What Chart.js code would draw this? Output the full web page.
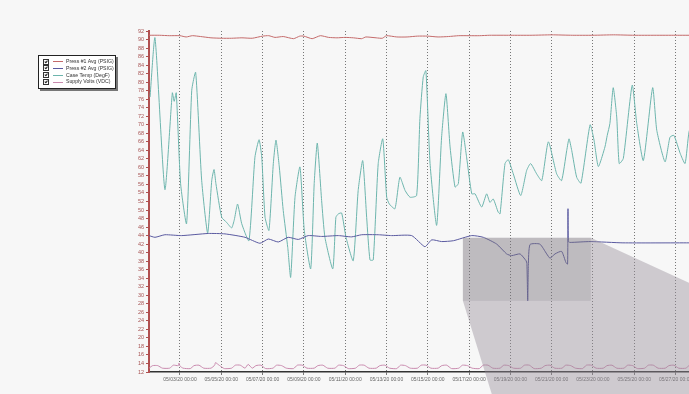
<!DOCTYPE html>
<html>
<head>
<meta charset="utf-8">
<script src="https://cdn.jsdelivr.net/npm/chart.js@4/dist/chart.umd.min.js"></script>
<style>
  body { margin: 0; background: #f7f7f7; overflow: hidden; font-family: "Liberation Sans", Arial, sans-serif; }
  #wrap { position: relative; width: 740px; height: 394px; }
  #legend {
    position: absolute; left: 38px; top: 55px; width: 76px; height: 32px;
    background: #fff; border: 1px solid #222; box-shadow: 2px 2px 0 #777;
    font-size: 5.2px; color: #333;
  }
  #legend .row { position: absolute; left: 4px; height: 6px; line-height: 6px; white-space: nowrap; }
  #legend .cb { display: inline-block; width: 4px; height: 4px; border: 0.6px solid #333; vertical-align: middle; position: relative; }
  #legend .cb::after { content: ""; position: absolute; left: 1px; top: 0px; width: 1.2px; height: 2.4px; border: solid #222; border-width: 0 0.7px 0.7px 0; transform: rotate(40deg); }
  #legend .ln { display: inline-block; width: 10px; height: 0; border-top: 1px solid; vertical-align: middle; margin: 0 3px 0 4px; }
</style>
</head>
<body>
<div id="wrap">
  <canvas id="chart"></canvas>
  <div id="legend"></div>
</div>
<script>
// series names and colours
const seriesNames = ["Press #1 Avg (PSIG)", "Press #2 Avg (PSIG)", "Case Temp (DegF)", "Supply Volts (VDC)"];
const seriesColors = ["#c46a6a", "#5a5aa0", "#6db5ad", "#c98aae"];

// x is the day of May 2020 (3 = 05/03/20 00:00)
const xTickDays = [3, 5, 7, 9, 11, 13, 15, 17, 19, 21, 23, 25, 27];
const xTickLabels = ["05/03/20 00:00", "05/05/20 00:00", "05/07/20 00:00", "05/09/20 00:00",
  "05/11/20 00:00", "05/13/20 00:00", "05/15/20 00:00", "05/17/20 00:00", "05/19/20 00:00",
  "05/21/20 00:00", "05/23/20 00:00", "05/25/20 00:00", "05/27/20 00:00"];

const press1 = [
  [1.5, 91.0], [2.0, 91.0], [2.5, 90.9], [3.0, 90.9], [3.3, 90.6], [3.6, 90.9], [4.0, 90.7],
  [4.5, 90.4], [5.0, 90.3], [5.5, 90.3], [6.0, 90.4], [6.5, 90.3], [7.0, 90.8], [7.3, 90.9],
  [7.6, 90.5], [8.0, 90.7], [8.5, 90.2], [8.8, 90.8], [9.0, 90.8], [9.4, 90.2], [9.8, 90.9],
  [10.2, 90.5], [10.6, 90.4], [11.0, 90.5], [11.4, 90.4], [11.8, 90.2], [12.0, 90.6], [12.5, 90.4],
  [12.8, 90.3], [13.0, 90.9], [13.5, 90.6], [14.0, 90.6], [14.5, 90.8], [15.0, 90.8], [15.5, 90.6],
  [16.0, 90.7], [16.5, 90.9], [17.0, 90.9], [17.5, 90.9], [18.0, 91.0], [19.0, 91.0], [20.0, 91.0],
  [21.0, 91.1], [22.0, 91.0], [23.0, 91.0], [24.0, 91.1], [25.0, 91.0], [26.0, 91.0], [27.0, 91.0],
  [28.0, 91.0], [30.2, 91.0]
];

const press2 = [
  [1.5, 44.0], [1.79, 43.6], [2.27, 44.2], [3.08, 44.0], [4.37, 44.5], [5.18, 44.4], [6.15, 43.6],
  [6.87, 42.2], [7.28, 43.2], [7.76, 42.5], [8.24, 43.6], [8.73, 43.1], [9.21, 44.0], [9.86, 43.8],
  [10.67, 44.0], [11.31, 43.7], [11.80, 44.2], [12.60, 44.2], [13.25, 44.0], [14.22, 44.0],
  [14.86, 41.4], [15.19, 43.0], [15.67, 42.6], [16.24, 42.8], [17.13, 44.0], [17.69, 43.6],
  [18.34, 42.0], [18.82, 39.7], [19.06, 39.3], [19.47, 39.7], [19.76, 38.1], [19.80, 37.5],
  [19.84, 28.7], [19.87, 37.0], [19.95, 41.9], [20.43, 42.0], [20.76, 39.7], [20.92, 38.7],
  [21.16, 39.7], [21.48, 40.3], [21.69, 37.7], [21.77, 37.3], [21.79, 50.3], [21.81, 42.6],
  [21.89, 42.4], [22.86, 42.6], [24.45, 42.3], [27.65, 42.3], [30.2, 42.3]
];

const caseTemp = [
  [1.55, 76.5], [1.79, 90.4], [2.27, 54.8], [2.63, 77.5], [2.72, 75.5], [2.82, 77.5], [3.03, 56.2],
  [3.32, 46.8], [3.57, 78.1], [3.76, 82.3], [4.05, 57.0], [4.34, 44.6], [4.54, 57.0], [4.65, 59.5],
  [4.74, 56.2], [5.02, 48.3], [5.26, 47.1], [5.50, 45.8], [5.63, 47.7], [5.79, 51.4], [5.99, 46.8],
  [6.34, 42.8], [6.63, 62.4], [6.83, 66.5], [6.96, 62.4], [7.12, 48.3], [7.31, 45.2], [7.52, 60.9],
  [7.65, 66.4], [7.81, 60.1], [8.00, 49.9], [8.22, 41.2], [8.36, 34.2], [8.57, 53.0], [8.81, 60.1],
  [9.02, 45.2], [9.33, 36.2], [9.50, 56.2], [9.65, 65.7], [9.86, 52.2], [10.02, 43.6], [10.40, 36.2],
  [10.55, 48.3], [10.67, 49.1], [10.83, 49.3], [11.04, 43.6], [11.39, 38.1], [11.63, 54.6],
  [11.85, 61.6], [12.04, 48.3], [12.20, 38.3], [12.36, 38.3], [12.60, 60.9], [12.82, 66.7],
  [13.01, 53.0], [13.14, 51.4], [13.41, 50.3], [13.65, 57.7], [13.90, 54.6], [14.14, 53.0],
  [14.46, 53.4], [14.62, 71.5], [14.78, 81.2], [14.91, 82.7], [15.11, 60.9], [15.43, 46.4],
  [15.67, 67.1], [15.88, 77.3], [16.08, 64.8], [16.32, 55.4], [16.48, 56.2], [16.69, 68.3],
  [16.88, 62.4], [17.13, 53.8], [17.29, 53.8], [17.61, 50.7], [17.85, 53.8], [18.01, 51.8],
  [18.17, 52.6], [18.41, 49.5], [18.50, 49.1], [18.74, 60.9], [18.90, 61.8], [19.14, 58.5],
  [19.50, 53.4], [19.79, 59.3], [19.98, 60.9], [20.27, 58.5], [20.52, 56.9], [20.84, 66.0],
  [21.24, 58.5], [21.48, 56.9], [21.73, 64.0], [21.84, 66.7], [21.97, 64.0], [22.21, 57.7],
  [22.42, 56.3], [22.86, 70.0], [23.05, 66.4], [23.26, 60.2], [23.58, 64.8], [23.69, 67.5],
  [23.82, 70.3], [23.98, 78.7], [24.15, 71.8], [24.27, 60.9], [24.47, 62.1], [24.90, 79.3],
  [25.12, 70.3], [25.44, 61.6], [25.89, 78.7], [26.09, 68.7], [26.49, 61.3], [26.73, 67.1],
  [26.92, 67.5], [27.23, 63.2], [27.46, 60.9], [27.65, 68.3], [27.9, 72.0]
];

const supplyVolts = [
  [1.5, 12.9], [1.68, 13.5], [1.92, 13.5], [2.15, 12.9], [2.5, 12.9], [2.68, 13.6], [2.92, 13.5],
  [2.95, 14.1], [3.0, 13.4], [3.15, 12.9], [3.5, 12.8], [3.68, 13.5], [3.92, 13.6], [4.15, 12.9],
  [4.5, 12.9], [4.68, 13.6], [4.72, 14.2], [4.92, 13.5], [5.15, 12.8], [5.5, 12.9], [5.68, 13.6],
  [5.92, 13.6], [6.15, 12.9], [6.3, 13.8], [6.5, 12.9], [6.68, 13.5], [6.92, 13.6], [7.15, 12.8],
  [7.5, 12.9], [7.68, 13.6], [7.92, 13.5], [8.15, 12.9], [8.5, 12.8], [8.68, 13.6], [8.92, 13.6],
  [9.15, 12.9], [9.5, 12.9], [9.68, 13.5], [9.92, 13.6], [10.15, 12.9], [10.5, 12.9], [10.68, 13.6],
  [10.92, 13.5], [11.15, 12.8], [11.5, 12.9], [11.68, 13.6], [11.92, 13.6], [12.15, 12.9],
  [12.5, 12.9], [12.68, 13.5], [12.92, 13.6], [13.15, 12.9], [13.5, 12.8], [13.68, 13.6],
  [13.92, 13.5], [14.15, 12.9], [14.5, 12.9], [14.68, 13.6], [14.92, 13.6], [15.15, 12.9],
  [15.5, 12.9], [15.68, 13.5], [15.92, 13.6], [16.15, 12.8], [16.5, 12.9], [16.68, 13.6],
  [16.92, 13.5], [17.15, 12.9], [17.5, 12.8], [17.68, 13.6], [17.92, 13.6], [18.15, 12.9],
  [18.5, 12.9], [18.68, 13.6], [18.92, 13.5], [19.15, 12.9], [19.5, 12.9], [19.68, 13.6],
  [19.92, 13.6], [20.15, 12.8], [20.5, 12.9], [20.68, 13.5], [20.92, 13.6], [21.15, 12.9],
  [21.5, 12.9], [21.68, 13.6], [21.92, 13.5], [22.15, 12.9], [22.5, 12.8], [22.68, 13.6],
  [22.92, 13.6], [23.15, 12.9], [23.5, 12.9], [23.68, 13.5], [23.92, 13.6], [24.15, 12.9],
  [24.5, 12.9], [24.68, 13.6], [24.92, 13.5], [25.15, 12.8], [25.5, 12.9], [25.68, 13.6],
  [25.92, 13.6], [26.15, 12.9], [26.5, 12.9], [26.68, 13.5], [26.92, 13.6], [27.15, 12.9],
  [27.5, 12.9], [27.68, 13.6], [27.92, 13.5], [28.15, 12.9], [28.5, 12.9], [28.68, 13.6],
  [28.92, 13.6], [29.15, 12.9], [29.5, 12.9], [30.2, 13.0]
];

// html legend
const legendBox = document.getElementById("legend");
legendBox.innerHTML = seriesNames
  .map(
    (name, i) =>
      `<div class="row" style="top:${2 + i * 6.8}px"><span class="cb"></span><span class="ln" style="border-color:${seriesColors[i]}"></span>${name}</div>`
  )
  .join("");

// grey zoom-lens overlay from the screenshot
const lensOverlay = {
  id: "lensOverlay",
  afterDraw(chart) {
    const { ctx, scales } = chart;
    const x0 = scales.x.getPixelForValue(16.7);
    const x1 = scales.x.getPixelForValue(22.9);
    const yTop = scales.y.getPixelForValue(43.5);
    const yBot = scales.y.getPixelForValue(28.7);
    const W = chart.width, H = chart.height;
    ctx.save();
    ctx.fillStyle = "rgba(150,140,152,0.42)";
    ctx.beginPath();
    ctx.moveTo(x0, yBot);
    ctx.lineTo(x1, yBot);
    ctx.lineTo(x1, yTop);
    ctx.lineTo(W, yTop + 0.46 * (W - x1));
    ctx.lineTo(W, H);
    ctx.lineTo(x0 + 0.31 * (H - yBot), H);
    ctx.closePath();
    ctx.fill();
    ctx.fillStyle = "rgba(120,112,122,0.45)";
    ctx.fillRect(x0, yTop, x1 - x0, yBot - yTop);
    ctx.restore();
  },
};

const line = (data, i) => ({
  label: seriesNames[i],
  data: data.map(([x, y]) => ({ x, y })),
  borderColor: seriesColors[i],
  borderWidth: 1,
  pointRadius: 0,
  tension: 0.18,
  fill: false,
});

new Chart(document.getElementById("chart"), {
  type: "line",
  data: {
    datasets: [line(press1, 0), line(press2, 1), line(caseTemp, 2), line(supplyVolts, 3)],
  },
  options: {
    responsive: true,
    maintainAspectRatio: false,
    animation: false,
    layout: { padding: { top: 31, left: 0, right: 0, bottom: 0 } },
    plugins: { legend: { display: false }, tooltip: { enabled: false } },
    scales: {
      x: {
        type: "linear",
        min: 1.5,
        max: 30.12,
        afterBuildTicks: (scale) => {
          scale.ticks = xTickDays.map((v) => ({ value: v }));
        },
        afterFit: (scale) => {
          scale.height = 22;
        },
        ticks: {
          autoSkip: false,
          maxRotation: 0,
          color: "#666",
          font: { size: 5 },
          padding: 2,
          callback: (v) => xTickLabels[xTickDays.indexOf(v)],
        },
        grid: { color: "#777", lineWidth: 1, tickLength: 3, tickColor: "#777" },
        border: { color: "#333", width: 1.5, dash: [1, 2] },
      },
      y: {
        min: 12,
        max: 92,
        afterFit: (scale) => {
          scale.width = 149;
        },
        ticks: {
          stepSize: 2,
          autoSkip: false,
          color: "#a85555",
          font: { size: 5.5 },
          padding: 2,
        },
        grid: { drawOnChartArea: false, tickLength: 3, tickColor: "#b05050" },
        border: { color: "#b05050", width: 2 },
      },
    },
  },
  plugins: [lensOverlay],
});
</script>
</body>
</html>
